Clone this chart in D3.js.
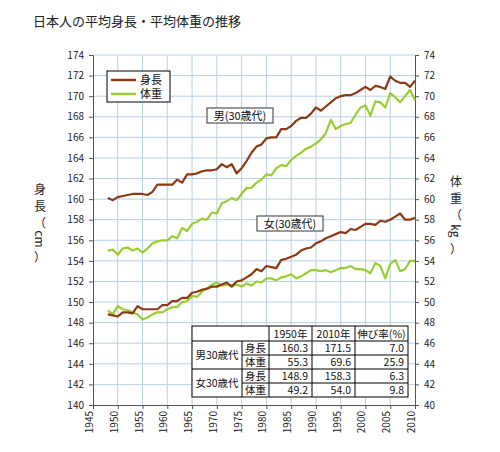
<!DOCTYPE html>
<html lang="ja">
<head>
<meta charset="UTF-8">
<title>日本人の平均身長・平均体重の推移</title>
<style>
  body { margin: 0; background: #fff; font-family: "Noto Sans CJK JP", "DejaVu Sans", sans-serif; }
  text { font-family: "Noto Sans CJK JP", "DejaVu Sans", sans-serif; }
</style>
</head>
<body>
<script src="https://cdn.jsdelivr.net/npm/d3@7"></script>
<script>
var years = d3.range(1948, 2011);
var maleHeight = [160.1,159.9,160.2,160.3,160.4,160.5,160.5,160.5,160.4,160.7,161.4,161.4,161.4,161.4,161.9,161.6,162.4,162.4,162.5,162.7,162.8,162.8,162.9,163.4,163.1,163.4,162.5,163.0,163.7,164.5,165.1,165.3,165.9,166.0,166.0,166.8,166.8,167.1,167.6,167.9,167.9,168.3,168.9,168.6,169.0,169.4,169.8,170.0,170.1,170.1,170.3,170.6,170.9,170.6,171.0,170.9,170.7,171.9,171.5,171.3,171.3,170.9,171.5];
var maleWeight = [55.0,55.1,54.6,55.2,55.3,55.0,55.2,54.8,55.2,55.7,55.9,56.0,56.0,56.4,56.2,57.2,56.9,57.6,57.8,58.1,58.0,58.7,58.6,59.6,59.8,60.1,59.9,60.5,61.1,61.1,61.6,61.9,62.4,62.3,63.0,63.3,63.2,63.8,64.2,64.5,64.9,65.1,65.4,65.8,66.4,67.7,66.8,67.1,67.3,67.4,68.2,68.9,69.1,68.1,69.5,69.4,68.9,70.3,69.9,69.4,70.0,70.6,69.6];
var femaleHeight = [148.8,148.7,148.6,149.0,149.0,148.9,149.6,149.3,149.3,149.3,149.3,149.7,149.7,150.1,150.1,150.4,150.4,150.9,151.0,151.2,151.3,151.5,151.5,151.7,151.9,151.5,152.0,152.1,152.4,152.7,153.2,153.0,153.5,153.4,153.3,154.1,154.2,154.4,154.6,155.0,155.2,155.3,155.7,155.9,156.2,156.4,156.6,156.8,156.7,157.1,157.0,157.3,157.6,157.6,157.5,157.9,157.8,158.0,158.3,158.6,158.0,158.0,158.2];
var femaleWeight = [49.2,48.8,49.6,49.3,49.2,49.0,48.8,48.3,48.5,48.8,49.0,49.0,49.3,49.5,49.5,50.0,50.1,50.6,50.5,51.0,51.3,51.7,51.9,51.6,51.7,51.6,51.7,51.5,51.8,51.6,52.0,51.9,52.3,52.3,52.1,52.4,52.5,52.7,52.3,52.5,52.8,53.1,53.1,53.0,53.1,52.9,53.1,53.3,53.3,53.5,53.2,53.2,53.1,52.8,53.8,53.5,52.3,53.7,54.1,53.0,53.2,54.0,54.0];

var tableHeader = ["1950年", "2010年", "伸び率(%)"];
var tableGroups = ["男30歳代", "女30歳代"];
var tableItems = ["身長", "体重"];
var tableValues = [["160.3","171.5","7.0"],["55.3","69.6","25.9"],["148.9","158.3","6.3"],["49.2","54.0","9.8"]];

var heightColor = "#8b3a14";
var weightColor = "#9acd32";

var W = 500, H = 452;
var L = 93, R = 415, T = 55, B = 405;

var svg = d3.select("body").append("svg").attr("width", W).attr("height", H);

var x = d3.scaleLinear().domain([1945, 2010]).range([L, R]);
var yL = d3.scaleLinear().domain([140, 174]).range([B, T]);
var yR = d3.scaleLinear().domain([40, 74]).range([B, T]);

svg.append("text").attr("x", 33).attr("y", 26).attr("font-size", 13).attr("fill", "#222")
  .text("日本人の平均身長・平均体重の推移");

// grid
var g = svg.append("g");
g.selectAll(".vg").data(d3.range(1950, 2010, 5)).enter().append("line")
  .attr("x1", function(d) { return x(d); }).attr("x2", function(d) { return x(d); })
  .attr("y1", T).attr("y2", B).attr("stroke", "#b8d0e8").attr("stroke-width", 1);
g.selectAll(".hg").data(d3.range(142, 175, 2)).enter().append("line")
  .attr("y1", function(d) { return yL(d); }).attr("y2", function(d) { return yL(d); })
  .attr("x1", L).attr("x2", R).attr("stroke", "#b8d0e8").attr("stroke-width", 1);

// axes
var axL = svg.append("g").attr("transform", "translate(" + L + ",0)")
  .call(d3.axisLeft(yL).tickValues(d3.range(140, 175, 2)).tickSize(4).tickPadding(5));
var axR = svg.append("g").attr("transform", "translate(" + R + ",0)")
  .call(d3.axisRight(yR).tickValues(d3.range(40, 75, 2)).tickSize(4).tickPadding(5));
var axB = svg.append("g").attr("transform", "translate(0," + B + ")")
  .call(d3.axisBottom(x).tickValues(d3.range(1945, 2011, 5)).tickFormat(d3.format("d")).tickSize(4));
axB.selectAll("text").attr("transform", "rotate(-90)").attr("text-anchor", "end")
  .attr("x", -6).attr("y", -4).attr("dy", "0.35em");
[axL, axR, axB].forEach(function(a) {
  a.selectAll("text").attr("font-size", 10).attr("fill", "#222");
  a.selectAll("line, path").attr("stroke", "#555");
});

// axis titles, one glyph per row; latin units turned sideways
function vtitle(xp, yp, chars) {
  var t = svg.append("g");
  chars.forEach(function(c, i) {
    var cy = yp + i * 17;
    var s = t.append("text").attr("x", xp).attr("y", cy).attr("text-anchor", "middle")
      .attr("dominant-baseline", "central").attr("font-size", 12).attr("fill", "#222").text(c);
    if (c === "cm" || c === "kg") s.attr("transform", "rotate(90," + xp + "," + cy + ")");
  });
}
vtitle(40, 188, ["身", "長", "（", "cm", "）"]);
vtitle(456, 180, ["体", "重", "（", "kg", "）"]);

// lines
var lineL = d3.line().x(function(d, i) { return x(years[i]); }).y(function(d) { return yL(d); });
var lineR = d3.line().x(function(d, i) { return x(years[i]); }).y(function(d) { return yR(d); });
[[maleWeight, lineR, weightColor], [femaleWeight, lineR, weightColor],
 [maleHeight, lineL, heightColor], [femaleHeight, lineL, heightColor]].forEach(function(s) {
  svg.append("path").datum(s[0]).attr("d", s[1]).attr("fill", "none")
    .attr("stroke", s[2]).attr("stroke-width", 2.2).attr("stroke-linejoin", "round");
});

// legend
var lg = svg.append("g");
lg.append("rect").attr("x", 107).attr("y", 71).attr("width", 63).attr("height", 31)
  .attr("fill", "#fff").attr("stroke", "#000");
[["身長", heightColor], ["体重", weightColor]].forEach(function(d, i) {
  var yy = 80 + i * 14;
  lg.append("line").attr("x1", 111).attr("x2", 136).attr("y1", yy).attr("y2", yy)
    .attr("stroke", d[1]).attr("stroke-width", 2.5);
  lg.append("text").attr("x", 140).attr("y", yy + 4).attr("font-size", 11).attr("fill", "#111").text(d[0]);
});

// annotations
function label(xp, yp, w, txt) {
  svg.append("rect").attr("x", xp).attr("y", yp).attr("width", w).attr("height", 15)
    .attr("fill", "#fff").attr("stroke", "#333");
  svg.append("text").attr("x", xp + w / 2).attr("y", yp + 12).attr("text-anchor", "middle")
    .attr("font-size", 11).attr("fill", "#111").text(txt);
}
label(207, 108, 66, "男(30歳代)");
label(257, 216, 66, "女(30歳代)");

// table
var cols = [192, 242, 269, 312, 355, 408];
var rows = [326, 341, 355, 369, 383, 397];
var tb = svg.append("g");
tb.append("rect").attr("x", cols[0]).attr("y", rows[0]).attr("width", cols[5] - cols[0])
  .attr("height", rows[5] - rows[0]).attr("fill", "#fff").attr("stroke", "#000");
[cols[2], cols[3], cols[4]].forEach(function(c) {
  tb.append("line").attr("x1", c).attr("x2", c).attr("y1", rows[0]).attr("y2", rows[5]).attr("stroke", "#000");
});
tb.append("line").attr("x1", cols[1]).attr("x2", cols[1]).attr("y1", rows[1]).attr("y2", rows[5]).attr("stroke", "#000");
tb.append("line").attr("x1", cols[0]).attr("x2", cols[5]).attr("y1", rows[1]).attr("y2", rows[1]).attr("stroke", "#000");
tb.append("line").attr("x1", cols[0]).attr("x2", cols[5]).attr("y1", rows[3]).attr("y2", rows[3]).attr("stroke", "#000");
[rows[2], rows[4]].forEach(function(r) {
  tb.append("line").attr("x1", cols[1]).attr("x2", cols[5]).attr("y1", r).attr("y2", r).attr("stroke", "#000");
});
tableHeader.forEach(function(h, i) {
  tb.append("text").attr("x", (cols[i + 2] + cols[i + 3]) / 2).attr("y", rows[0] + 12)
    .attr("text-anchor", "middle").attr("font-size", 10.5).attr("fill", "#111").text(h);
});
tableGroups.forEach(function(gn, i) {
  tb.append("text").attr("x", (cols[0] + cols[1]) / 2).attr("y", rows[1 + 2 * i] + 18)
    .attr("text-anchor", "middle").attr("font-size", 10.5).attr("fill", "#111").text(gn);
});
tableValues.forEach(function(rv, r) {
  tb.append("text").attr("x", (cols[1] + cols[2]) / 2).attr("y", rows[r + 1] + 11)
    .attr("text-anchor", "middle").attr("font-size", 10.5).attr("fill", "#111").text(tableItems[r % 2]);
  rv.forEach(function(v, c) {
    tb.append("text").attr("x", cols[c + 3] - 4).attr("y", rows[r + 1] + 11)
      .attr("text-anchor", "end").attr("font-size", 10.5).attr("fill", "#111").text(v);
  });
});
</script>
</body>
</html>
